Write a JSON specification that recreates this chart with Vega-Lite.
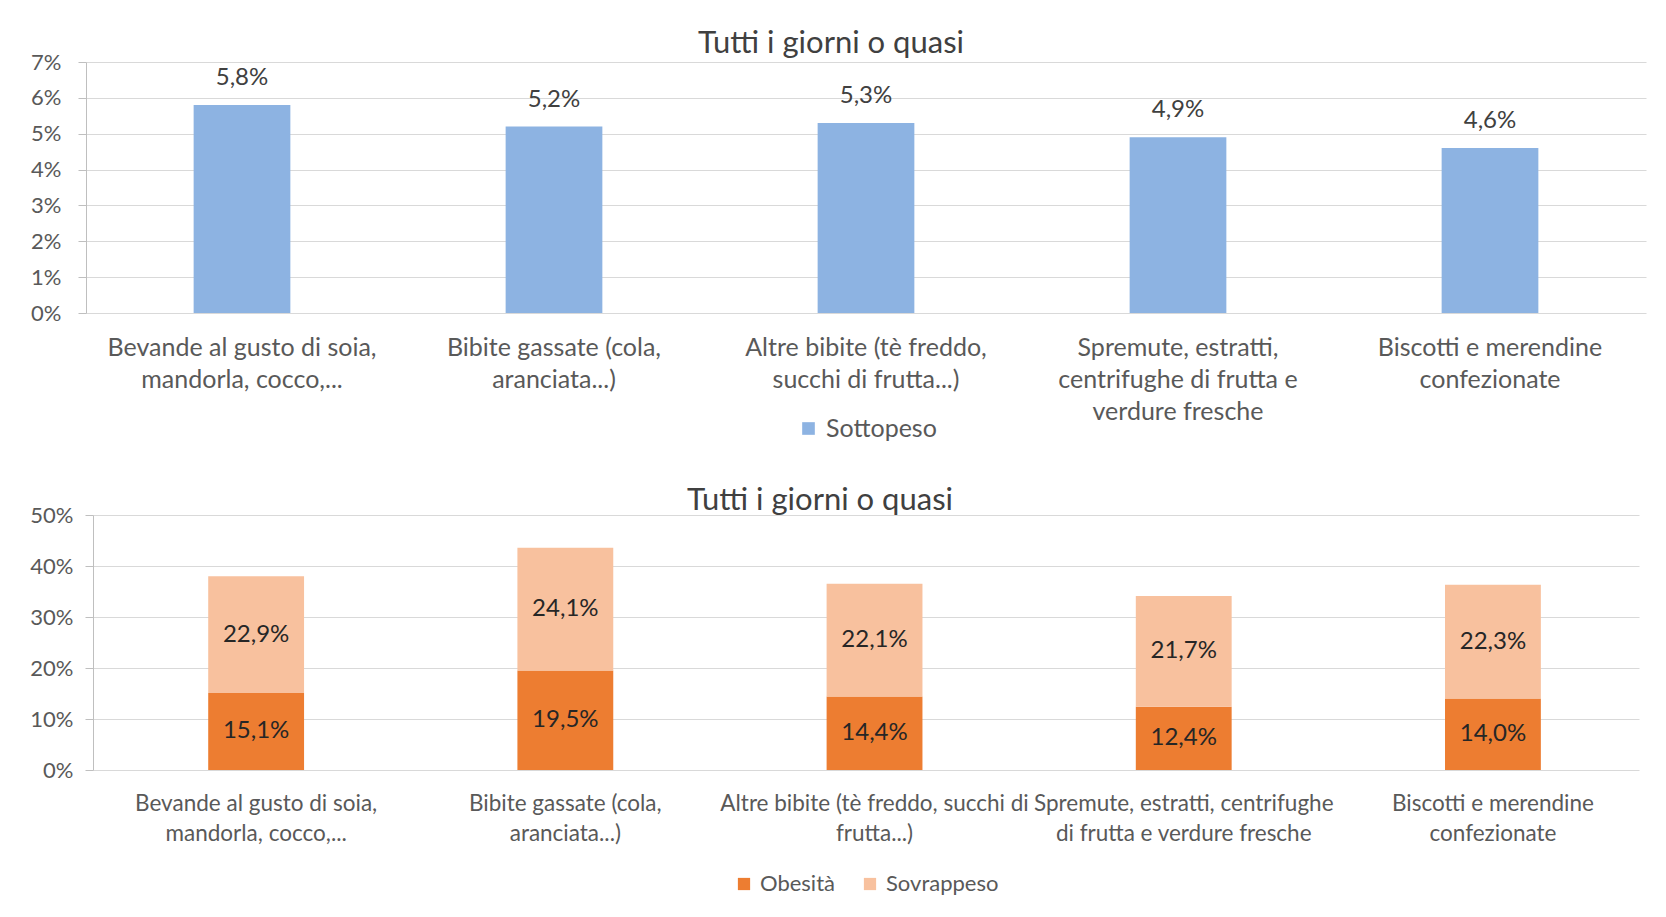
{
  "$schema": "https://vega.github.io/schema/vega-lite/v6.json",
  "background": "white",
  "padding": {"left": 29, "top": 28, "right": 5, "bottom": 5},
  "spacing": 43,
  "center": true,
  "datasets": {
    "sottopeso": [
      {"categoria": "Bevande al gusto di soia, mandorla, cocco,...", "gruppo": "Sottopeso", "valore": 0.058},
      {"categoria": "Bibite gassate (cola, aranciata...)", "gruppo": "Sottopeso", "valore": 0.052},
      {"categoria": "Altre bibite (tè freddo, succhi di frutta...)", "gruppo": "Sottopeso", "valore": 0.053},
      {"categoria": "Spremute, estratti, centrifughe di frutta e verdure fresche", "gruppo": "Sottopeso", "valore": 0.049},
      {"categoria": "Biscotti e merendine confezionate", "gruppo": "Sottopeso", "valore": 0.046}
    ],
    "peso": [
      {"categoria": "Bevande al gusto di soia, mandorla, cocco,...", "gruppo": "Obesità", "valore": 0.151},
      {"categoria": "Bevande al gusto di soia, mandorla, cocco,...", "gruppo": "Sovrappeso", "valore": 0.229},
      {"categoria": "Bibite gassate (cola, aranciata...)", "gruppo": "Obesità", "valore": 0.195},
      {"categoria": "Bibite gassate (cola, aranciata...)", "gruppo": "Sovrappeso", "valore": 0.241},
      {"categoria": "Altre bibite (tè freddo, succhi di frutta...)", "gruppo": "Obesità", "valore": 0.144},
      {"categoria": "Altre bibite (tè freddo, succhi di frutta...)", "gruppo": "Sovrappeso", "valore": 0.221},
      {"categoria": "Spremute, estratti, centrifughe di frutta e verdure fresche", "gruppo": "Obesità", "valore": 0.124},
      {"categoria": "Spremute, estratti, centrifughe di frutta e verdure fresche", "gruppo": "Sovrappeso", "valore": 0.217},
      {"categoria": "Biscotti e merendine confezionate", "gruppo": "Obesità", "valore": 0.140},
      {"categoria": "Biscotti e merendine confezionate", "gruppo": "Sovrappeso", "valore": 0.223}
    ]
  },
  "resolve": {
    "scale": {"color": "independent", "x": "independent", "y": "independent"},
    "legend": {"color": "independent"}
  },
  "vconcat": [
    {
      "title": {"text": "Tutti i giorni o quasi", "offset": -9, "dx": -35},
      "width": 1560,
      "height": 251,
      "data": {"name": "sottopeso"},
      "encoding": {
        "x": {
          "field": "categoria", "type": "nominal", "sort": null,
          "scale": {"paddingInner": 0.69, "paddingOuter": 0.345},
          "axis": {
            "title": null, "labelAngle": 0, "ticks": false, "domain": false,
            "labelFontSize": 25, "labelLineHeight": 32, "labelPadding": 22, "labelLimit": 500,
            "labelExpr": "indexof(datum.value,'Bevande')==0 ? ['Bevande al gusto di soia,','mandorla, cocco,...'] : indexof(datum.value,'Bibite')==0 ? ['Bibite gassate (cola,','aranciata...)'] : indexof(datum.value,'Altre')==0 ? ['Altre bibite (tè freddo,','succhi di frutta...)'] : indexof(datum.value,'Spremute')==0 ? ['Spremute, estratti,','centrifughe di frutta e','verdure fresche'] : ['Biscotti e merendine','confezionate']"
          }
        },
        "y": {
          "field": "valore", "type": "quantitative",
          "scale": {"domain": [0, 0.07]},
          "axis": {
            "title": null, "format": ".0%", "values": [0, 0.01, 0.02, 0.03, 0.04, 0.05, 0.06, 0.07],
            "labelFontSize": 22, "tickSize": 8, "labelPadding": 17, "domain": true
          }
        }
      },
      "layer": [
        {
          "mark": {"type": "bar"},
          "encoding": {
            "color": {
              "field": "gruppo", "type": "nominal",
              "scale": {"domain": ["Sottopeso"], "range": ["#8DB3E2"]},
              "legend": {"title": null, "orient": "bottom", "direction": "horizontal", "labelFontSize": 25, "offset": -8, "symbolSize": 160}
            }
          }
        },
        {
          "mark": {"type": "text", "baseline": "middle", "dy": -27, "fontSize": 24, "color": "#404040"},
          "encoding": {"text": {"field": "valore", "type": "quantitative", "format": ".1%"}}
        }
      ]
    },
    {
      "title": {"text": "Tutti i giorni o quasi", "offset": -13, "dx": -46},
      "width": 1546,
      "height": 255,
      "data": {"name": "peso"},
      "encoding": {
        "x": {
          "field": "categoria", "type": "nominal", "sort": null,
          "scale": {"paddingInner": 0.69, "paddingOuter": 0.345, "align": 0.54},
          "axis": {
            "title": null, "labelAngle": 0, "ticks": false, "domain": false,
            "labelFontSize": 22.5, "labelLineHeight": 30, "labelPadding": 22, "labelLimit": 500,
            "labelExpr": "indexof(datum.value,'Bevande')==0 ? ['Bevande al gusto di soia,','mandorla, cocco,...'] : indexof(datum.value,'Bibite')==0 ? ['Bibite gassate (cola,','aranciata...)'] : indexof(datum.value,'Altre')==0 ? ['Altre bibite (tè freddo, succhi di','frutta...)'] : indexof(datum.value,'Spremute')==0 ? ['Spremute, estratti, centrifughe','di frutta e verdure fresche'] : ['Biscotti e merendine','confezionate']"
          }
        }
      },
      "layer": [
        {
          "mark": {"type": "bar"},
          "encoding": {
            "y": {
              "field": "valore", "type": "quantitative", "stack": "zero",
              "scale": {"domain": [0, 0.5]},
              "axis": {
                "title": null, "format": ".0%", "values": [0, 0.1, 0.2, 0.3, 0.4, 0.5],
                "labelFontSize": 22, "tickSize": 8, "labelPadding": 12, "domain": true
              }
            },
            "color": {
              "field": "gruppo", "type": "nominal",
              "scale": {"domain": ["Obesità", "Sovrappeso"], "range": ["#ED7D31", "#F8C19E"]},
              "legend": {"title": null, "orient": "bottom", "direction": "horizontal", "labelFontSize": 22, "offset": 28, "symbolSize": 150, "columnPadding": 24}
            },
            "order": {"field": "gruppo", "sort": "ascending"}
          }
        },
        {
          "transform": [
            {"stack": "valore", "groupby": ["categoria"], "sort": [{"field": "gruppo", "order": "ascending"}], "as": ["v0", "v1"]},
            {"calculate": "(datum.v0 + datum.v1) / 2", "as": "centro"}
          ],
          "mark": {"type": "text", "baseline": "middle", "fontSize": 24, "color": "#262626"},
          "encoding": {
            "y": {"field": "centro", "type": "quantitative"},
            "text": {"field": "valore", "type": "quantitative", "format": ".1%"}
          }
        }
      ]
    }
  ],
  "config": {
    "font": "Lato",
    "locale": {
      "number": {"decimal": ",", "thousands": ".", "grouping": [3], "currency": ["", " €"], "percent": "%"}
    },
    "view": {"stroke": null},
    "axis": {
      "labelFont": "Lato", "labelColor": "#595959",
      "gridColor": "#D9D9D9", "gridWidth": 1,
      "domainColor": "#BFBFBF", "tickColor": "#BFBFBF"
    },
    "title": {"font": "Lato", "fontSize": 31, "fontWeight": "normal", "color": "#404040", "anchor": "middle"},
    "legend": {
      "labelFont": "Lato", "labelColor": "#595959", "symbolType": "square", "symbolStrokeWidth": 0,
      "labelOffset": 5,
      "layout": {"bottom": {"anchor": "middle"}}
    }
  }
}
